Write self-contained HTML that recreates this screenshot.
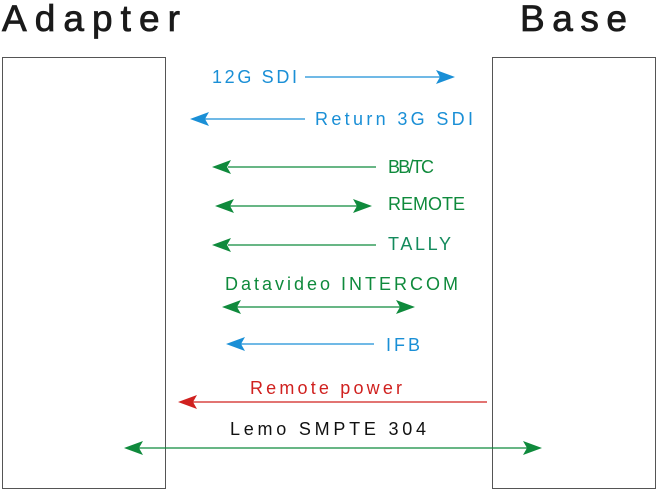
<!DOCTYPE html>
<html><head><meta charset="utf-8"><style>
html,body{margin:0;padding:0;background:#fff;width:657px;height:490px;overflow:hidden}
svg{display:block}
text{font-family:"Liberation Sans",sans-serif}
</style></head><body>
<svg width="657" height="490" viewBox="0 0 657 490" xmlns="http://www.w3.org/2000/svg">
<rect x="0" y="0" width="657" height="490" fill="#fff"/>
<text x="2" y="31" font-size="37" fill="#1a1a1a" stroke="#1a1a1a" stroke-width="0.8" textLength="178" lengthAdjust="spacing">Adapter</text>
<text x="520" y="31" font-size="37" fill="#1a1a1a" stroke="#1a1a1a" stroke-width="0.8" textLength="107" lengthAdjust="spacing">Base</text>
<rect x="2.5" y="57.5" width="163" height="431" fill="none" stroke="#555" stroke-width="1"/>
<rect x="492.5" y="57.5" width="163" height="431" fill="none" stroke="#555" stroke-width="1"/>
<g font-size="18">
<text x="212" y="83" fill="#1a8fd6" textLength="85" lengthAdjust="spacing">12G SDI</text>
<text x="315" y="125" fill="#1a8fd6" textLength="158" lengthAdjust="spacing">Return 3G SDI</text>
<text x="388" y="173" fill="#0f8a3c" textLength="46" lengthAdjust="spacing">BB/TC</text>
<text x="388" y="210" fill="#0f8a3c" textLength="77" lengthAdjust="spacing">REMOTE</text>
<text x="388" y="250" fill="#138a5c" textLength="63" lengthAdjust="spacing">TALLY</text>
<text x="225" y="290" fill="#0f8a3c" textLength="233" lengthAdjust="spacing">Datavideo INTERCOM</text>
<text x="386" y="351" fill="#1a8fd6" textLength="34" lengthAdjust="spacing">IFB</text>
<text x="250" y="394" fill="#d0211f" textLength="152" lengthAdjust="spacing">Remote power</text>
<text x="230" y="435" fill="#111" textLength="196" lengthAdjust="spacing">Lemo SMPTE 304</text>
</g>
<g stroke-width="1.3">
<line x1="305" y1="77" x2="440" y2="77" stroke="#1a8fd6"/>
<polygon points="455,77 436,70 440,77 436,84" fill="#1a8fd6"/>
<line x1="205" y1="119" x2="305" y2="119" stroke="#1a8fd6"/>
<polygon points="190,119 209,112 205,119 209,126" fill="#1a8fd6"/>
<line x1="228" y1="167" x2="376" y2="167" stroke="#0f8a3c"/>
<polygon points="212,167 231,160 227,167 231,174" fill="#0f8a3c"/>
<line x1="230" y1="206" x2="358" y2="206" stroke="#0f8a3c"/>
<polygon points="215,206 234,199 230,206 234,213" fill="#0f8a3c"/>
<polygon points="372,206 353,199 357,206 353,213" fill="#0f8a3c"/>
<line x1="228" y1="245" x2="376" y2="245" stroke="#0f8a3c"/>
<polygon points="212,245 231,238 227,245 231,252" fill="#0f8a3c"/>
<line x1="237" y1="307" x2="400" y2="307" stroke="#0f8a3c"/>
<polygon points="222,307 241,300 237,307 241,314" fill="#0f8a3c"/>
<polygon points="415,307 396,300 400,307 396,314" fill="#0f8a3c"/>
<line x1="241" y1="344" x2="374" y2="344" stroke="#1a8fd6"/>
<polygon points="226,344 245,337 241,344 245,351" fill="#1a8fd6"/>
<line x1="193" y1="402" x2="487" y2="402" stroke="#d0211f"/>
<polygon points="178,402 197,395 193,402 197,409" fill="#d0211f"/>
<line x1="139" y1="448" x2="527" y2="448" stroke="#0f8a3c"/>
<polygon points="124,448 143,441 139,448 143,455" fill="#0f8a3c"/>
<polygon points="542,448 523,441 527,448 523,455" fill="#0f8a3c"/>
</g>
</svg>
</body></html>
